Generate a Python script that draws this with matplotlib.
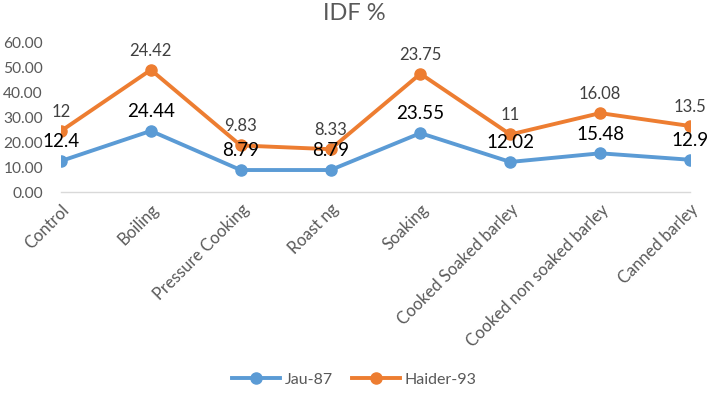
import matplotlib
matplotlib.use("Agg")
import matplotlib.pyplot as plt
import numpy as np

categories = ["Control", "Boiling", "Pressure Cooking", "Roast ng", "Soaking",
              "Cooked Soaked barley", "Cooked non soaked barley", "Canned barley"]
jau = [12.4, 24.44, 8.79, 8.79, 23.55, 12.02, 15.48, 12.9]
haider = [12, 24.42, 9.83, 8.33, 23.75, 11, 16.08, 13.5]
yticks = [0, 10, 20, 30, 40, 50, 60]

plt.rcParams['font.family'] = ['Lato', 'DejaVu Sans']

fig = plt.figure(figsize=(7.09, 4.02), dpi=100)
ax = fig.add_axes([61/709, 1-193/402, (690-61)/709, 150/402])

x = np.arange(len(categories))
stacked = np.array(jau) + np.array(haider)
blue = "#5B9BD5"
orange = "#ED7D31"
ax.plot(x, jau, color=blue, lw=2.8, marker='o', ms=8, label="Jau-87", zorder=3)
ax.plot(x, stacked, color=orange, lw=2.8, marker='o', ms=8, label="Haider-93", zorder=3)

for xi, v in zip(x, jau):
    ax.annotate(f"{v:g}", (xi, v), xytext=(0, 14.5), textcoords='offset points',
                ha='center', va='center', fontsize=13.5, color='black', zorder=4)
for xi, v, s in zip(x, haider, stacked):
    ax.annotate(f"{v:g}", (xi, s), xytext=(0, 14.5), textcoords='offset points',
                ha='center', va='center', fontsize=12, color='#404040', zorder=4)

ax.set_xlim(0, len(categories)-1)
ax.set_ylim(0, 60)
ax.set_yticks(yticks)
ax.set_yticklabels([f"{t:.2f}" for t in yticks], fontsize=11.2, color='#595959')
ax.set_xticks(x)
ax.set_xticklabels(categories, rotation=45, ha='right', rotation_mode='anchor',
                   fontsize=12, color='#595959')
ax.tick_params(axis='y', length=0, pad=13)
ax.tick_params(axis='x', length=0, pad=6)
for lbl in ax.get_xticklabels():
    lbl.set_x(lbl.get_position()[0])
for sp in ['top', 'right', 'left']:
    ax.spines[sp].set_visible(False)
ax.spines['bottom'].set_color('#D9D9D9')
ax.spines['bottom'].set_linewidth(1)
ax.spines['bottom'].set_clip_on(False)

fig.text(0.5, 1-14/402, "IDF %", ha='center', va='center', fontsize=17, color='#595959')

fig.legend(loc='center', bbox_to_anchor=(0.5, 1-380/402), ncol=2, frameon=False,
           fontsize=11.5, labelcolor='#595959', handlelength=3.0, columnspacing=1.2,
           handletextpad=0.3)

fig.savefig("out.png", dpi=100)
